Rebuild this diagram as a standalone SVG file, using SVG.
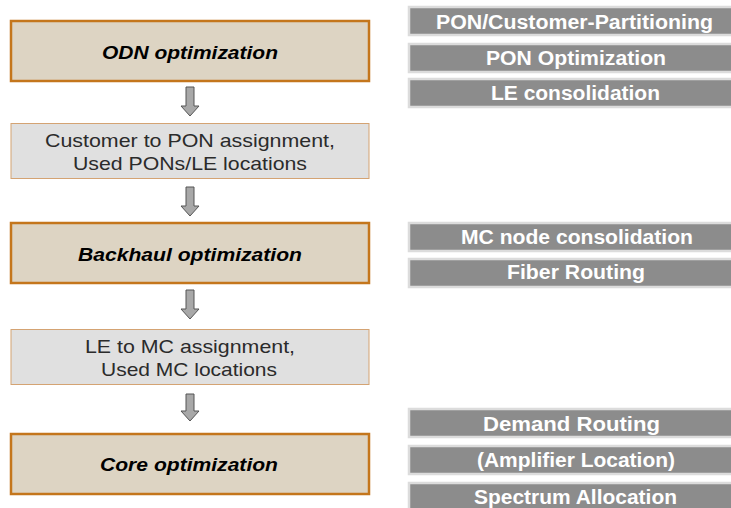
<svg xmlns="http://www.w3.org/2000/svg" width="731" height="508" viewBox="0 0 731 508">
  <defs>
    <style>
      .stage { fill: #ddd4c3; stroke: #c4761c; stroke-width: 2.5; }
      .result { fill: #e0e0e0; stroke: #d4a373; stroke-width: 1; }
      .stage-label { font-family: "Liberation Sans", Arial, sans-serif; font-size: 19px; font-weight: bold; font-style: italic; fill: #000; text-anchor: middle; }
      .result-label { font-family: "Liberation Sans", Arial, sans-serif; font-size: 18.5px; fill: #2b2b2b; text-anchor: middle; }
      .task { fill: #8c8c8c; stroke: #dcdcdc; stroke-width: 2.5; }
      .task-label { font-family: "Liberation Sans", Arial, sans-serif; font-size: 19.5px; font-weight: bold; fill: #ffffff; text-anchor: middle; }
      .flow { fill: #a8a8a8; stroke: #555555; stroke-width: 1; }
    </style>
  </defs>
  <rect width="731" height="508" fill="#ffffff"/>

  <!-- left column: optimization stages and intermediate results -->
  <g id="odn-optimization">
    <rect class="stage" x="11" y="21" width="358" height="60"/>
    <text class="stage-label" x="190" y="59" textLength="176" lengthAdjust="spacingAndGlyphs">ODN optimization</text>
  </g>
  <g id="pon-assignment">
    <rect class="result" x="11" y="123.5" width="358" height="55"/>
    <text class="result-label" x="190" y="147" textLength="290" lengthAdjust="spacingAndGlyphs">Customer to PON assignment,</text>
    <text class="result-label" x="190" y="170" textLength="234" lengthAdjust="spacingAndGlyphs">Used PONs/LE locations</text>
  </g>
  <g id="backhaul-optimization">
    <rect class="stage" x="11" y="223" width="358" height="60"/>
    <text class="stage-label" x="190" y="261" textLength="224" lengthAdjust="spacingAndGlyphs">Backhaul optimization</text>
  </g>
  <g id="mc-assignment">
    <rect class="result" x="11" y="329.5" width="358" height="55"/>
    <text class="result-label" x="190" y="353" textLength="210" lengthAdjust="spacingAndGlyphs">LE to MC assignment,</text>
    <text class="result-label" x="189" y="376" textLength="176" lengthAdjust="spacingAndGlyphs">Used MC locations</text>
  </g>
  <g id="core-optimization">
    <rect class="stage" x="11" y="434" width="358" height="60"/>
    <text class="stage-label" x="189" y="471" textLength="178" lengthAdjust="spacingAndGlyphs">Core optimization</text>
  </g>

  <!-- downward flow arrows between the stages -->
  <g id="connectors">
    <path class="flow" d="M186,87 H194 V106 H199 L190,116 L181,106 H186 Z"/>
    <path class="flow" d="M186,187 H194 V206 H199 L190,216 L181,206 H186 Z"/>
    <path class="flow" d="M186,290 H194 V309 H199 L190,319 L181,309 H186 Z"/>
    <path class="flow" d="M186,394 H194 V411 H199 L190,421 L181,411 H186 Z"/>
  </g>

  <!-- right column: tasks of each stage -->
  <g id="odn-tasks">
    <g id="task-partitioning">
      <rect class="task" x="409" y="7" width="330" height="28"/>
      <text class="task-label" x="574.5" y="29" textLength="277" lengthAdjust="spacingAndGlyphs">PON/Customer-Partitioning</text>
    </g>
    <g id="task-pon-optimization">
      <rect class="task" x="409" y="44" width="330" height="28"/>
      <text class="task-label" x="576" y="65" textLength="180" lengthAdjust="spacingAndGlyphs">PON Optimization</text>
    </g>
    <g id="task-le-consolidation">
      <rect class="task" x="409" y="79" width="330" height="28"/>
      <text class="task-label" x="575.5" y="100" textLength="169" lengthAdjust="spacingAndGlyphs">LE consolidation</text>
    </g>
  </g>
  <g id="backhaul-tasks">
    <g id="task-mc-consolidation">
      <rect class="task" x="409" y="223" width="330" height="28"/>
      <text class="task-label" x="577" y="244" textLength="232" lengthAdjust="spacingAndGlyphs">MC node consolidation</text>
    </g>
    <g id="task-fiber-routing">
      <rect class="task" x="409" y="259" width="330" height="28"/>
      <text class="task-label" x="576" y="279" textLength="138" lengthAdjust="spacingAndGlyphs">Fiber Routing</text>
    </g>
  </g>
  <g id="core-tasks">
    <g id="task-demand-routing">
      <rect class="task" x="409" y="409" width="330" height="28"/>
      <text class="task-label" x="571.5" y="431" textLength="177" lengthAdjust="spacingAndGlyphs">Demand Routing</text>
    </g>
    <g id="task-amplifier-location">
      <rect class="task" x="409" y="446" width="330" height="28"/>
      <text class="task-label" x="576" y="467" textLength="198" lengthAdjust="spacingAndGlyphs">(Amplifier Location)</text>
    </g>
    <g id="task-spectrum-allocation">
      <rect class="task" x="409" y="483" width="330" height="28"/>
      <text class="task-label" x="575.5" y="504" textLength="203" lengthAdjust="spacingAndGlyphs">Spectrum Allocation</text>
    </g>
  </g>
</svg>
